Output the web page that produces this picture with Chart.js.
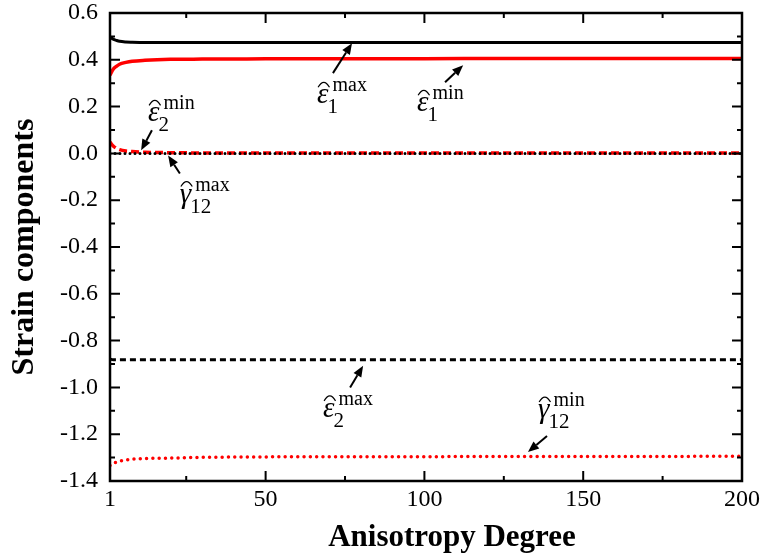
<!DOCTYPE html>
<html>
<head>
<meta charset="utf-8">
<script src="https://cdn.jsdelivr.net/npm/chart.js@4.4.1/dist/chart.umd.min.js"></script>
<style>
html, body { margin: 0; padding: 0; background: #fff; }
#wrap { width: 764px; height: 556px; }
</style>
</head>
<body>
<div id="wrap"><canvas id="grafico"></canvas></div>
<script>
// anisotropy degree (x) and strain components
const xs = [1, 2, 3, 4, 6, 8, 12, 20, 30, 50, 75, 100, 125, 150, 175, 200];
const eps1Max = [0.497, 0.488, 0.483, 0.479, 0.476, 0.475, 0.474, 0.474, 0.474, 0.474, 0.474, 0.474, 0.474, 0.474, 0.474, 0.474];
const eps1Min = [0.334, 0.360, 0.372, 0.381, 0.389, 0.394, 0.398, 0.402, 0.403, 0.404, 0.405, 0.405, 0.406, 0.406, 0.406, 0.406];
const eps2Min = [0.048, 0.032, 0.022, 0.016, 0.010, 0.008, 0.005, 0.003, 0.002, 0.002, 0.002, 0.002, 0.002, 0.002, 0.002, 0.002];
const gam12Max = [0, 0, 0, 0, 0, 0, 0, 0, 0, 0, 0, 0, 0, 0, 0, 0];
const eps2Max = [-0.879, -0.882, -0.882, -0.882, -0.882, -0.882, -0.882, -0.882, -0.882, -0.882, -0.882, -0.882, -0.882, -0.882, -0.882, -0.882];
const gam12Min = [-1.334, -1.325, -1.319, -1.315, -1.310, -1.307, -1.304, -1.302, -1.299, -1.297, -1.296, -1.296, -1.295, -1.295, -1.295, -1.294];

const xMajor = [1, 50, 100, 150, 200];
const xMinor = [25, 75, 125, 175];

// labels: symbol, subscript, superscript, text anchor, arrow tail -> head (data units)
const notes = [
    { sym: 'ε', sub: '1', sup: 'max', at: [66.2, 0.214], from: [71.2, 0.343], to: [77.2, 0.471] },
    { sym: 'ε', sub: '1', sup: 'min', at: [97.7, 0.180], from: [106.5, 0.304], to: [112.2, 0.377] },
    { sym: 'ε', sub: '2', sup: 'min', at: [13.0, 0.137], from: [14.2, 0.099], to: [10.8, 0.013] },
    { sym: 'γ', sub: '12', sup: 'max', at: [23.0, -0.210], from: [23.0, -0.086], to: [19.3, -0.009] },
    { sym: 'ε', sub: '2', sup: 'max', at: [68.1, -1.126], from: [76.6, -1.000], to: [80.7, -0.908] },
    { sym: 'γ', sub: '12', sup: 'min', at: [135.8, -1.131], from: [138.6, -1.208], to: [132.6, -1.276] }
];

const FONT = "'Liberation Serif', 'Times New Roman', serif";

function pts(ys) {
    return xs.map((x, i) => ({ x: x, y: ys[i] }));
}

function serie(label, ys, color, dash, width, cap) {
    return {
        label: label,
        data: pts(ys),
        borderColor: color,
        borderWidth: width,
        borderDash: dash,
        borderCapStyle: cap,
        pointRadius: 0,
        fill: false,
        cubicInterpolationMode: 'monotone'
    };
}

const moldura = {
    id: 'moldura',
    afterDraw(chart) {
        const ctx = chart.ctx;
        const a = chart.chartArea;
        const sx = chart.scales.x, sy = chart.scales.y;
        ctx.save();
        ctx.strokeStyle = '#000';
        ctx.lineWidth = 2.5;
        ctx.strokeRect(a.left, a.top, a.right - a.left, a.bottom - a.top);

        // ticks pointing inward on all four sides
        ctx.lineWidth = 2;
        ctx.beginPath();
        const xt = xMajor.map(v => [v, 10]).concat(xMinor.map(v => [v, 5]));
        xt.forEach(([v, len]) => {
            const p = sx.getPixelForValue(v);
            ctx.moveTo(p, a.bottom); ctx.lineTo(p, a.bottom - len);
            ctx.moveTo(p, a.top); ctx.lineTo(p, a.top + len);
        });
        for (let i = -14; i <= 6; i++) {
            const len = (i % 2 === 0) ? 10 : 5;
            const p = sy.getPixelForValue(i / 10);
            ctx.moveTo(a.left, p); ctx.lineTo(a.left + len, p);
            ctx.moveTo(a.right, p); ctx.lineTo(a.right - len, p);
        }
        ctx.stroke();

        // axis titles
        ctx.fillStyle = '#000';
        ctx.font = 'bold 31px ' + FONT;
        ctx.textAlign = 'center';
        ctx.textBaseline = 'alphabetic';
        ctx.fillText('Anisotropy Degree', 452, 546);
        ctx.save();
        ctx.translate(33, (a.top + a.bottom) / 2);
        ctx.rotate(-Math.PI / 2);
        ctx.font = 'bold 32px ' + FONT;
        ctx.fillText('Strain components', 0, 0);
        ctx.restore();
        ctx.textAlign = 'left';

        // annotations
        notes.forEach(n => {
            const tx = sx.getPixelForValue(n.at[0]);
            const ty = sy.getPixelForValue(n.at[1]);
            ctx.font = 'italic 29px ' + FONT;
            ctx.fillText(n.sym, tx, ty);
            const w = ctx.measureText(n.sym).width;
            // hat
            ctx.lineWidth = 1.2;
            ctx.beginPath();
            ctx.moveTo(tx + 1, ty - 16);
            ctx.quadraticCurveTo(tx + w / 2 + 1, ty - 26, tx + w + 1, ty - 16);
            ctx.stroke();
            ctx.font = '21px ' + FONT;
            ctx.fillText(n.sub, tx + w - 1, ty + 10);
            ctx.font = '20px ' + FONT;
            ctx.fillText(n.sup, tx + w + 4, ty - 12);

            // arrow
            const x0 = sx.getPixelForValue(n.from[0]), y0 = sy.getPixelForValue(n.from[1]);
            const x1 = sx.getPixelForValue(n.to[0]), y1 = sy.getPixelForValue(n.to[1]);
            const ang = Math.atan2(y1 - y0, x1 - x0);
            const hl = 11, hw = 4.5;
            const bx = x1 - hl * Math.cos(ang), by = y1 - hl * Math.sin(ang);
            ctx.lineWidth = 2;
            ctx.beginPath();
            ctx.moveTo(x0, y0);
            ctx.lineTo(bx, by);
            ctx.stroke();
            ctx.beginPath();
            ctx.moveTo(x1, y1);
            ctx.lineTo(bx + hw * Math.sin(ang), by - hw * Math.cos(ang));
            ctx.lineTo(bx - hw * Math.sin(ang), by + hw * Math.cos(ang));
            ctx.closePath();
            ctx.fill();
        });
        ctx.restore();
    }
};

new Chart(document.getElementById('grafico').getContext('2d'), {
    type: 'line',
    data: {
        datasets: [
            serie('γ12 max', gam12Max, '#000', [0, 5], 3, 'round'),
            serie('ε1 max', eps1Max, '#000', [], 3, 'butt'),
            serie('ε1 min', eps1Min, '#ff0000', [], 3.5, 'butt'),
            serie('ε2 min', eps2Min, '#ff0000', [8, 4], 3.5, 'butt'),
            serie('ε2 max', eps2Max, '#000', [6, 4], 3, 'butt'),
            serie('γ12 min', gam12Min, '#ff0000', [0, 6.3], 3.5, 'round')
        ]
    },
    options: {
        responsive: true,
        maintainAspectRatio: false,
        animation: false,
        layout: { padding: { top: 13, right: 22, left: 0, bottom: 0 } },
        plugins: {
            legend: { display: false },
            tooltip: { enabled: false }
        },
        scales: {
            x: {
                type: 'linear',
                min: 1,
                max: 200,
                afterBuildTicks: axis => { axis.ticks = xMajor.map(v => ({ value: v })); },
                afterFit: axis => { axis.height = 75; axis.paddingLeft = 0; axis.paddingRight = 0; },
                grid: { display: false },
                border: { display: false },
                ticks: { color: '#000', font: { family: FONT, size: 24 }, padding: -4, maxRotation: 0 }
            },
            y: {
                min: -1.4,
                max: 0.6,
                afterFit: axis => { axis.width = 110; axis.paddingTop = 0; axis.paddingBottom = 0; },
                grid: { display: false },
                border: { display: false },
                ticks: { stepSize: 0.2, color: '#000', font: { family: FONT, size: 24 }, padding: 4,
                    callback: v => Number(v).toFixed(1) }
            }
        }
    },
    plugins: [moldura]
});
</script>
</body>
</html>
